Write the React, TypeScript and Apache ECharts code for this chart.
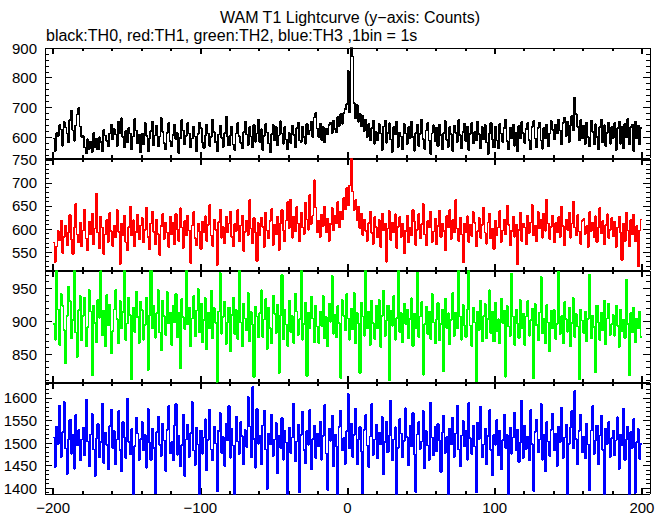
import React, { useEffect, useRef } from 'react';
import * as echarts from 'echarts';

const TITLE = 'WAM T1 Lightcurve (y\u2212axis: Counts)';
const SUBTITLE = 'black:TH0, red:TH1, green:TH2, blue:TH3 ,1bin = 1s';
const TIME_START = -200;
const BIN_SEC = 1;
const X_TICKS = [-200, -100, 0, 100, 200];

const TH0 = [
  596,554,614,604,641,626,571,651,632,613,582,657,688,623,588,639,677,699,635,601,
  604,566,545,593,561,586,550,614,567,596,558,600,583,553,625,606,588,569,613,643,
  593,627,609,571,652,615,664,601,565,621,583,632,613,558,602,661,623,579,609,549,
  613,576,647,605,552,596,621,653,572,606,639,569,602,665,618,580,558,614,648,587,
  570,608,641,593,614,546,597,657,622,576,604,647,613,565,595,635,602,553,610,649,
  630,582,563,606,643,613,571,601,660,618,583,552,609,639,597,567,614,670,602,572,
  605,636,576,557,613,647,604,580,562,618,653,609,574,634,602,565,640,584,613,658,
  583,627,556,604,645,615,579,548,610,640,589,634,572,606,654,613,578,635,592,558,
  614,580,639,608,565,631,649,589,583,635,600,578,645,609,623,653,600,667,681,629,
  601,646,590,634,582,629,610,641,650,613,656,627,617,668,638,677,645,681,694,712,
  822,684,903,872,716,664,709,652,678,636,672,621,660,601,645,589,631,656,578,617,
  589,645,613,557,636,656,581,614,647,592,550,635,610,652,567,616,602,558,644,613,
  578,634,596,653,600,554,615,643,570,611,660,593,561,623,648,589,543,613,640,585,
  631,570,643,608,558,614,654,591,567,635,610,553,639,614,583,658,608,563,617,645,
  587,636,557,611,647,580,617,589,652,610,562,634,592,641,583,544,614,649,593,565,
  635,589,562,644,613,583,630,660,588,558,632,596,643,571,615,553,637,595,652,614,
  580,627,647,591,558,635,654,595,566,630,648,589,561,632,597,643,570,613,654,624,
  593,643,613,660,623,576,648,666,605,652,584,640,671,622,734,678,634,589,658,596,
  639,578,649,601,569,656,618,575,644,600,558,635,658,582,640,570,615,649,578,634,
  597,647,557,631,653,578,636,563,645,600,661,575,634,643,554,652,596,639,576,630,
];

const TH1 = [
  571,528,562,596,575,618,548,583,607,564,592,631,577,546,603,655,588,571,614,562,
  597,642,579,553,616,588,634,566,601,676,592,558,627,603,545,588,619,572,635,596,
  563,608,582,641,594,524,612,587,629,571,553,604,648,586,619,562,593,631,577,608,
  624,571,598,647,583,556,612,638,594,567,621,589,543,606,633,578,614,592,561,627,
  589,613,566,632,598,574,645,603,559,618,586,629,597,526,608,637,581,564,612,594,
  557,616,593,628,574,609,652,586,563,621,598,522,615,642,581,604,569,627,593,612,
  638,583,562,611,596,641,573,608,629,552,594,618,587,663,601,569,624,592,531,613,
  587,625,604,561,636,597,579,618,643,565,609,588,627,554,612,641,596,573,619,658,
  602,664,581,627,595,648,612,573,636,604,589,657,621,598,674,611,629,706,647,592,
  618,583,631,607,649,592,623,574,611,645,597,628,612,659,604,638,621,667,642,689,
  651,694,758,682,641,663,619,648,602,633,587,621,596,574,613,638,591,567,626,604,
  582,619,561,634,597,612,529,601,639,576,614,592,632,559,605,626,583,612,547,596,
  629,571,603,586,641,617,565,598,632,579,611,654,588,564,617,603,638,572,594,623,
  566,607,639,583,612,596,553,628,604,641,578,619,592,663,601,574,625,588,527,612,
  594,628,571,609,585,637,613,562,596,624,581,609,647,592,568,614,633,579,601,557,
  618,586,603,639,572,597,621,588,651,609,564,596,627,583,610,523,598,636,574,612,
  603,567,629,591,614,652,586,608,573,637,602,619,581,634,596,664,612,578,605,629,
  571,613,592,626,583,649,607,564,621,598,636,581,612,659,603,586,631,594,567,618,
  622,589,606,561,637,596,614,583,628,572,603,645,591,617,566,609,632,581,598,624,
  584,616,561,603,627,592,533,611,574,635,597,562,619,588,631,573,606,519,597,621,
];

const TH2 = [
  896,872,978,918,864,941,923,887,836,908,952,931,874,902,982,883,846,917,938,871,
  908,936,862,891,947,915,818,924,897,868,932,905,976,879,916,862,940,894,925,851,
  885,918,947,903,866,931,889,914,984,872,897,936,909,812,921,884,945,906,867,930,
  917,872,894,936,826,908,979,889,924,875,912,947,883,856,931,908,879,944,897,913,
  864,923,898,941,876,912,829,934,906,888,988,895,921,862,904,938,877,916,949,883,
  927,868,902,935,857,913,889,946,874,920,897,808,915,973,881,906,930,865,898,921,
  854,909,936,881,917,873,981,898,862,927,904,886,943,869,914,895,815,922,907,876,
  912,947,876,903,934,858,921,890,866,939,911,882,925,822,908,970,873,917,895,862,
  931,884,908,867,942,915,879,903,986,872,896,928,817,913,889,937,904,868,924,892,
  867,915,893,938,874,906,862,927,899,969,881,910,876,923,897,814,932,908,886,941,
  904,872,919,888,943,866,913,896,821,928,907,878,977,889,915,864,931,897,873,924,
  889,932,861,908,946,877,901,924,811,916,893,938,872,905,983,884,912,868,927,896,
  918,874,903,935,862,911,889,974,876,907,929,819,896,922,881,915,873,941,898,866,
  903,928,871,896,917,824,934,890,912,865,902,943,878,913,889,989,907,872,925,894,
  876,917,979,893,862,921,898,809,915,887,931,869,908,926,874,903,947,882,914,869,
  928,885,903,866,934,897,916,816,923,892,878,972,907,864,918,896,875,932,889,911,
  864,907,931,878,902,919,813,926,894,871,913,967,882,904,867,925,898,854,916,889,
  917,873,896,975,881,908,866,929,903,884,921,862,897,935,876,911,892,812,918,901,
  882,915,869,903,971,874,908,891,823,924,898,872,913,886,931,865,904,927,879,896,
  909,878,924,893,861,917,885,902,874,963,896,818,912,883,921,868,904,889,915,876,
];

const TH3 = [
  1512,1447,1536,1498,1583,1469,1524,1591,1488,1431,1507,1552,1476,1518,1443,1562,1495,1529,1461,1508,
  1534,1472,1596,1503,1448,1519,1565,1486,1427,1511,1543,1468,1502,1587,1455,1523,1496,1441,1538,1574,
  1489,1526,1452,1508,1571,1484,1437,1547,1513,1466,1599,1502,1475,1531,1384,1493,1556,1521,1462,1509,
  1547,1483,1518,1445,1576,1501,1463,1532,1489,1389,1524,1558,1496,1471,1543,1506,1438,1529,1582,1477,
  1502,1461,1539,1587,1474,1516,1448,1495,1563,1427,1508,1541,1469,1522,1591,1483,1451,1534,1497,1382,
  1528,1476,1512,1553,1439,1507,1574,1485,1461,1536,1499,1393,1527,1566,1478,1513,1449,1542,1506,1583,
  1467,1532,1494,1386,1558,1503,1476,1547,1515,1452,1529,1491,1602,1537,1468,1624,1509,1445,1576,1498,
  1516,1453,1539,1572,1486,1398,1521,1497,1563,1471,1508,1544,1433,1517,1489,1556,1463,1528,1501,1379,
  1534,1478,1512,1587,1459,1503,1541,1390,1518,1569,1484,1455,1527,1496,1573,1442,1509,1538,1467,1521,
  1492,1547,1463,1516,1584,1477,1396,1532,1505,1561,1448,1519,1493,1381,1536,1572,1483,1511,1454,1527,
  1609,1488,1543,1469,1518,1576,1452,1507,1536,1481,1388,1529,1562,1494,1447,1515,1586,1473,1508,1541,
  1466,1523,1497,1558,1431,1502,1547,1479,1516,1594,1462,1508,1535,1383,1489,1553,1521,1468,1504,1577,
  1513,1451,1538,1492,1567,1474,1392,1519,1546,1487,1503,1571,1444,1527,1495,1462,1589,1512,1473,1536,
  1481,1542,1506,1435,1524,1561,1478,1513,1380,1532,1497,1556,1469,1521,1583,1486,1448,1517,1549,1492,
  1527,1463,1589,1511,1476,1538,1492,1391,1545,1509,1581,1468,1497,1532,1453,1516,1573,1484,1429,1518,
  1496,1551,1472,1528,1441,1507,1563,1489,1518,1378,1534,1476,1512,1567,1483,1529,1458,1501,1594,1467,
  1539,1487,1514,1461,1573,1498,1394,1525,1552,1479,1508,1587,1463,1519,1438,1546,1503,1471,1529,1565,
  1483,1521,1449,1536,1502,1578,1467,1512,1541,1385,1498,1534,1571,1488,1616,1509,1452,1527,1563,1479,
  1514,1466,1543,1497,1395,1528,1582,1476,1505,1539,1453,1517,1561,1484,1381,1532,1498,1547,1469,1511,
  1528,1472,1506,1557,1443,1519,1495,1576,1462,1508,1537,1377,1524,1489,1553,1389,1502,1531,1465,1498,
];

const Y_TICKS = [
  [600, 700, 800, 900],
  [550, 600, 650, 700, 750],
  [850, 900, 950],
  [1400, 1450, 1500, 1550, 1600],
];
const Y_MINOR_STEP = [20, 10, 10, 10];
const Y_RANGES = [
  [530, 900],
  [511, 752],
  [808, 976],
  [1387, 1633],
];
const SERIES_NAMES = ['TH0', 'TH1', 'TH2', 'TH3'];
const SERIES_DATA = [TH0, TH1, TH2, TH3];
const COLORS = ['#000000', '#ff0000', '#00ff00', '#0000ff'];

const FONT = "'Liberation Sans', Arial, sans-serif";

function fmtMinus(v: number) {
  return v < 0 ? '\u2212' + Math.abs(v) : String(v);
}

function buildOption() {
  const XMIN = -205.5;
  const XMAX = 205.5;
  const xMinor: number[] = [];
  for (let v = -200; v <= 200; v += 20) if (X_TICKS.indexOf(v) < 0) xMinor.push(v);

  const grids: any[] = [];
  const xAxes: any[] = [];
  const yAxes: any[] = [];
  const series: any[] = [];
  const tops = [48, 159, 271, 383];
  const heights = [110, 111, 111, 111];

  for (let p = 0; p < 4; p++) {
    grids.push({ left: 45, right: 19, top: tops[p], height: heights[p], containLabel: false });
    const xBase = {
      type: 'value', gridIndex: p, min: XMIN, max: XMAX,
      splitLine: { show: false }, axisLine: { show: false, onZero: false }, axisLabel: { show: false },
    };
    const xMajorBottomIdx = xAxes.length;
    for (const pos of ['bottom', 'top']) {
      xAxes.push({
        ...xBase, position: pos,
        axisLine: { show: true, onZero: false, lineStyle: { color: '#000', width: 1 } },
        axisTick: { show: true, inside: true, length: 6, customValues: X_TICKS, lineStyle: { color: '#000', width: 2 } },
        axisLabel: (p === 3 && pos === 'bottom') ? {
          show: true, customValues: X_TICKS, formatter: fmtMinus, fontSize: 15, color: '#000', margin: 6, fontFamily: FONT,
        } : { show: false },
      });
      xAxes.push({
        ...xBase, position: pos,
        axisTick: { show: true, inside: true, length: 3, customValues: xMinor, lineStyle: { color: '#000', width: 2 } },
      });
    }
    const [ymin, ymax] = Y_RANGES[p];
    const majors = Y_TICKS[p];
    const minors: number[] = [];
    const ms = Y_MINOR_STEP[p];
    for (let v = Math.ceil(ymin / ms) * ms; v <= ymax; v += ms) if (majors.indexOf(v) < 0) minors.push(v);
    const yBase = {
      type: 'value', gridIndex: p, min: ymin, max: ymax,
      splitLine: { show: false }, axisLine: { show: false, onZero: false }, axisLabel: { show: false },
    };
    const yMajorLeftIdx = yAxes.length;
    for (const pos of ['left', 'right']) {
      yAxes.push({
        ...yBase, position: pos,
        axisLine: { show: true, onZero: false, lineStyle: { color: '#000', width: 1 } },
        axisTick: { show: true, inside: true, length: 7, customValues: majors, lineStyle: { color: '#000', width: 1 } },
        axisLabel: pos === 'left' ? {
          show: true, customValues: majors, formatter: (v: number) => String(v),
          fontSize: 15, color: '#000', margin: 8, fontFamily: FONT,
        } : { show: false },
      });
      yAxes.push({
        ...yBase, position: pos,
        axisTick: { show: true, inside: true, length: 4, customValues: minors, lineStyle: { color: '#000', width: 1 } },
      });
    }
    const vals = SERIES_DATA[p];
    const data: number[][] = vals.map((v, i) => [TIME_START + i * BIN_SEC, v]);
    data.push([TIME_START + vals.length * BIN_SEC, vals[vals.length - 1]]);
    series.push({
      name: SERIES_NAMES[p], type: 'line', xAxisIndex: xMajorBottomIdx, yAxisIndex: yMajorLeftIdx,
      data, step: 'end', showSymbol: false, symbol: 'none', clip: true,
      lineStyle: { color: COLORS[p], width: 1.6 }, itemStyle: { color: COLORS[p] },
    });
  }

  return {
    animation: false,
    backgroundColor: '#ffffff',
    textStyle: { fontFamily: FONT },
    grid: grids,
    xAxis: xAxes,
    yAxis: yAxes,
    series,
    graphic: [
      { type: 'text', x: 350, y: 9, style: { text: TITLE, font: `16px ${FONT}`, fill: '#000', textAlign: 'center' } },
      { type: 'text', x: 46, y: 27, style: { text: SUBTITLE, font: `16px ${FONT}`, fill: '#000' } },
    ],
  };
}

export default function App() {
  const ref = useRef<HTMLDivElement>(null);
  useEffect(() => {
    if (!ref.current) return;
    const chart = echarts.init(ref.current, undefined, { renderer: 'svg' });
    chart.setOption(buildOption() as any);
    return () => chart.dispose();
  }, []);
  return (
    <>
      <style>{'.wam-chart svg path { shape-rendering: crispEdges; }'}</style>
      <div
        ref={ref}
        className="wam-chart"
        style={{ position: 'absolute', left: 0, top: 0, width: 669, height: 515, background: '#fff' }}
      />
    </>
  );
}
